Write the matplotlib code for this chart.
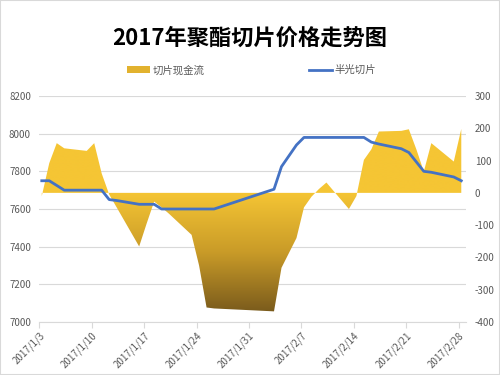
import numpy as np
import pandas as pd
import matplotlib
matplotlib.use('Agg')
import matplotlib.pyplot as plt
import matplotlib.dates as mdates
from matplotlib.colors import LinearSegmentedColormap
from matplotlib.patches import Patch
from matplotlib.lines import Line2D

plt.rcParams['font.family'] = ['Noto Sans CJK SC', 'DejaVu Sans']
plt.rcParams['axes.unicode_minus'] = False

# data
dates = ['2017-01-03', '2017-01-04', '2017-01-05', '2017-01-06', '2017-01-09',
         '2017-01-10', '2017-01-11', '2017-01-12', '2017-01-13', '2017-01-16',
         '2017-01-17', '2017-01-18', '2017-01-19', '2017-01-20', '2017-01-23',
         '2017-01-24', '2017-01-25', '2017-01-26', '2017-02-03', '2017-02-04',
         '2017-02-06', '2017-02-07', '2017-02-08', '2017-02-09', '2017-02-10',
         '2017-02-13', '2017-02-14', '2017-02-15', '2017-02-16', '2017-02-17',
         '2017-02-20', '2017-02-21', '2017-02-22', '2017-02-23', '2017-02-24',
         '2017-02-27', '2017-02-28']
cash_flow = [-10, 92, 154, 138, 130, 154, 60, -5, -45, -166,
             -95, -27, -45, -65, -130, -225, -355, -358, -367, -232,
             -140, -45, -12, 12, 32, -50, -10, 102, 135, 190,
             192, 197, 135, 66, 154, 97, 198]
price = [7750, 7750, 7725, 7700, 7700, 7700, 7700, 7650, 7645, 7625,
         7625, 7625, 7600, 7600, 7600, 7600, 7600, 7600, 7705, 7825,
         7940, 7980, 7980, 7980, 7980, 7980, 7980, 7980, 7955, 7945,
         7920, 7900, 7850, 7800, 7795, 7770, 7750]
tick_dates = ['2017-01-03', '2017-01-10', '2017-01-17', '2017-01-24', '2017-01-31',
              '2017-02-07', '2017-02-14', '2017-02-21', '2017-02-28']
tick_labels = ['2017/1/3', '2017/1/10', '2017/1/17', '2017/1/24', '2017/1/31',
               '2017/2/7', '2017/2/14', '2017/2/21', '2017/2/28']

title = '2017年聚酯切片价格走势图'
name_cash = '切片现金流'
name_price = '半光切片'

grey = '#595959'
light = '#D9D9D9'
blue = '#4472C4'

x = mdates.date2num(pd.to_datetime(dates)) + 0.33
xt = mdates.date2num(pd.to_datetime(tick_dates))
x0 = xt[0]

fig = plt.figure(figsize=(5, 3.75), dpi=100)
ax = fig.add_axes([0.0786, 0.1413, 0.854, 0.6027])
ax2 = ax.twinx()
ax3 = ax.twinx()

# left axis: grid + labels
ax.set_xlim(x0, x0 + 57)
ax.set_ylim(7000, 8200)
ax.set_yticks(np.arange(7000, 8201, 200))
ax.grid(axis='y', color=light, linewidth=0.8)
ax.set_axisbelow(True)
ax.set_xticks(xt)
ax.set_xticklabels(tick_labels, rotation=45, ha='right', rotation_mode='anchor')
ax.tick_params(axis='x', colors=light, labelcolor=grey, labelsize=7, length=4, pad=2)
ax.tick_params(axis='y', length=0, labelcolor=grey, labelsize=7, pad=6)
for s in ['top', 'right', 'left']:
    ax.spines[s].set_visible(False)
ax.spines['bottom'].set_color(light)

# right axis: gradient area
ax2.set_ylim(-400, 300)
ax2.set_yticks(np.arange(-400, 301, 100))
ax2.tick_params(axis='y', length=0, labelcolor=grey, labelsize=7, pad=6)
for s in ax2.spines.values():
    s.set_visible(False)

cmap = LinearSegmentedColormap.from_list('gold', ['#7A5B1C', '#C99B28', '#F5C534'])
yy = np.linspace(-400, 300, 400)
t = np.clip((yy + 370) / 370, 0, 1)
img = cmap(t)[:, None, :]
poly = ax2.fill_between(x, 0, cash_flow, color='none', linewidth=0)
im = ax2.imshow(img, extent=[x0, x0 + 57, -400, 300], origin='lower',
                aspect='auto', interpolation='bilinear')
im.set_clip_path(poly.get_paths()[0], transform=ax2.transData)
ax2.set_xlim(x0, x0 + 57)

# line on top
ax3.set_ylim(7000, 8200)
ax3.plot(x, price, color=blue, linewidth=2)
ax3.set_yticks([])
for s in ax3.spines.values():
    s.set_visible(False)
ax3.set_xlim(x0, x0 + 57)

fig.text(0.5, 1 - 38 / 375, title, ha='center', va='center',
         fontsize=16, fontweight='bold', color='black')

handles = [Patch(facecolor='#E2B22E', edgecolor='none'),
           Line2D([0], [0], color=blue, linewidth=2)]
fig.legend(handles, [name_cash, name_price], loc='center',
           bbox_to_anchor=(0.503, 1 - 70 / 375), ncol=2, frameon=False,
           fontsize=7.5, handlelength=2.2, handleheight=0.6,
           handletextpad=0.3, columnspacing=10, labelcolor=grey)

fig.patches.append(plt.Rectangle((0, 0), 1, 1, transform=fig.transFigure,
                                 fill=False, edgecolor=light, linewidth=1.5))

fig.savefig('out.png', dpi=100)
